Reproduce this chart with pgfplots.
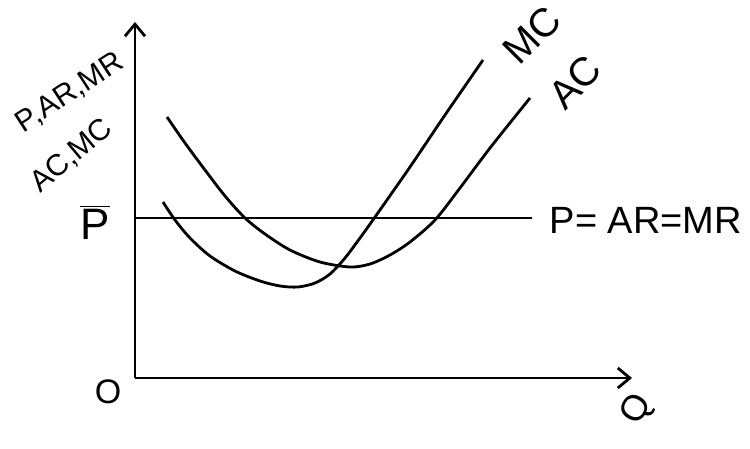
\documentclass[border=0pt]{standalone}
\usepackage{pgfplots}
\pgfplotsset{compat=1.18}
\usepackage{fontspec}
\setmainfont{Liberation Sans}
\usetikzlibrary{arrows.meta}
\begin{document}
\begin{tikzpicture}
\begin{axis}[
  scale only axis, width=375pt, height=224.5pt,
  xmin=0, xmax=750, ymin=0, ymax=449, y dir=reverse,
  hide axis, clip=false,
]
% axes
\addplot[black, line width=1.4pt, -{Straight Barb[length=6pt,width=10pt]}] coordinates {(135,378) (135,22)};
\addplot[black, line width=1.4pt, -{Straight Barb[length=6pt,width=10pt]}] coordinates {(135,378) (632,378)};
% price line
\addplot[black, line width=1.3pt] coordinates {(135,218) (532,218)};
% MC
\addplot[black, line width=1.4pt, smooth, tension=0.5] coordinates {
(163,202) (175,220) (190,238) (210,256) (235,271) (260,281) (280,286) (298,287) (315,283) (330,274) (345,258) (360,238) (375,217) (410,167) (445,115) (483,60)};
% AC
\addplot[black, line width=1.4pt, smooth, tension=0.5] coordinates {
(167,117) (185,143) (205,170) (225,196) (245,218) (265,234) (290,250) (320,262) (350,267) (370,264) (390,255) (410,242) (435,220) (460,188) (490,148) (530,98)};
% labels
\node[rotate=33, font=\fontsize{15}{17}\selectfont, inner sep=0pt] at (axis cs:70,93) {P,AR,MR};
\node[rotate=40, font=\fontsize{15}{17}\selectfont, inner sep=0pt] at (axis cs:72,156) {AC,MC};
\node[font=\fontsize{22}{24}\selectfont] at (axis cs:95,222) {$\overline{\hbox{P}}$};
\node[font=\fontsize{17}{19}\selectfont] at (axis cs:108,392) {O};
\node[font=\fontsize{19}{21}\selectfont] at (axis cs:646,220) {P= AR=MR};
\node[rotate=45, font=\fontsize{20}{22}\selectfont] at (axis cs:532,35) {MC};
\node[rotate=45, font=\fontsize{20}{22}\selectfont] at (axis cs:575,82) {AC};
\node[rotate=60, font=\fontsize{18}{20}\selectfont] at (axis cs:638,410) {Q};
\end{axis}
\pgfresetboundingbox
\path (current axis.south west) rectangle (current axis.north east);
\end{tikzpicture}
\end{document}
